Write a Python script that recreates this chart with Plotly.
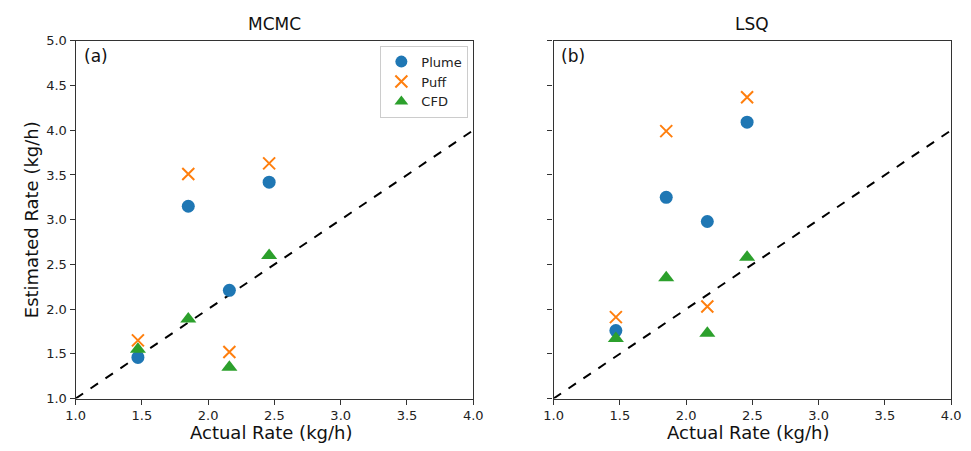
import plotly.graph_objects as go

actual = [1.47, 1.85, 2.16, 2.46]

mcmc_plume = [1.46, 3.15, 2.21, 3.42]
mcmc_puff = [1.65, 3.51, 1.52, 3.63]
mcmc_cfd = [1.55, 1.89, 1.35, 2.60]

lsq_plume = [1.76, 3.25, 2.98, 4.09]
lsq_puff = [1.91, 3.99, 2.03, 4.37]
lsq_cfd = [1.67, 2.35, 1.73, 2.58]

line_xy = [1.0, 4.0]
ticks = [1.0, 1.5, 2.0, 2.5, 3.0, 3.5, 4.0]
yticks = [1.0, 1.5, 2.0, 2.5, 3.0, 3.5, 4.0, 4.5, 5.0]

C_BLUE = "#1f77b4"
C_ORANGE = "#ff7f0e"
C_GREEN = "#2ca02c"
FONT = "DejaVu Sans"

fig = go.Figure()

panels = [
    ("x", "y", mcmc_plume, mcmc_puff, mcmc_cfd, True),
    ("x2", "y2", lsq_plume, lsq_puff, lsq_cfd, False),
]
for xa, ya, plume, puff, cfd, show in panels:
    fig.add_trace(go.Scatter(x=line_xy, y=line_xy, mode="lines", xaxis=xa, yaxis=ya,
                             line=dict(color="black", dash="dash", width=2),
                             showlegend=False, hoverinfo="skip"))
    fig.add_trace(go.Scatter(x=actual, y=plume, mode="markers", name="Plume", xaxis=xa, yaxis=ya,
                             marker=dict(symbol="circle", size=13, color=C_BLUE),
                             showlegend=show))
    fig.add_trace(go.Scatter(x=actual, y=puff, mode="markers", name="Puff", xaxis=xa, yaxis=ya,
                             marker=dict(symbol="x-thin", size=12, color=C_ORANGE,
                                         line=dict(color=C_ORANGE, width=2)),
                             showlegend=show))
    fig.add_trace(go.Scatter(x=actual, y=cfd, mode="markers", name="CFD", xaxis=xa, yaxis=ya,
                             marker=dict(symbol="triangle-up", size=14, color=C_GREEN),
                             showlegend=show))

W, H = 971, 451
ydom = [1 - 405 / H, 1 - 35 / H]
axis_common = dict(showgrid=False, zeroline=False, showline=True, linecolor="#333333",
                   linewidth=1.2, mirror=True, ticks="outside", ticklen=5, tickcolor="#333333",
                   tickfont=dict(family=FONT, size=13, color="#222222"))

fig.update_layout(
    width=W, height=H,
    margin=dict(l=0, r=0, t=0, b=0),
    paper_bgcolor="white", plot_bgcolor="white",
    font=dict(family=FONT, color="#222222"),
    xaxis=dict(domain=[67 / W, 473 / W], range=[1, 4], tickvals=ticks,
               ticktext=[f"{t:.1f}" for t in ticks], anchor="y", **axis_common),
    yaxis=dict(domain=ydom, range=[1, 5], tickvals=yticks,
               ticktext=[f"{t:.1f}" for t in yticks], anchor="x", **axis_common),
    xaxis2=dict(domain=[555 / W, 961 / W], range=[1, 4], tickvals=ticks,
                ticktext=[f"{t:.1f}" for t in ticks], anchor="y2", **axis_common),
    yaxis2=dict(domain=ydom, range=[1, 5], tickvals=yticks, showticklabels=False,
                anchor="x2", **axis_common),
    legend=dict(x=468 / W, xanchor="right", y=1 - 40 / H, yanchor="top",
                bgcolor="white", bordercolor="#cccccc", borderwidth=1,
                font=dict(family=FONT, size=13, color="#222222"),
                itemsizing="constant", tracegroupgap=0),
    showlegend=True,
)

ann = [
    dict(text="MCMC", x=270 / W, y=1 - 18 / H, size=17),
    dict(text="LSQ", x=758 / W, y=1 - 18 / H, size=17),
    dict(text="Actual Rate (kg/h)", x=266 / W, y=1 - 440 / H, size=18),
    dict(text="Actual Rate (kg/h)", x=754 / W, y=1 - 440 / H, size=18),
    dict(text="(a)", x=88 / W, y=1 - 51 / H, size=17),
    dict(text="(b)", x=575 / W, y=1 - 51 / H, size=17),
]
for a in ann:
    fig.add_annotation(text=a["text"], x=a["x"], y=a["y"], xref="paper", yref="paper",
                       showarrow=False, xanchor="center", yanchor="middle",
                       font=dict(family=FONT, size=a["size"], color="#111111"))
fig.add_annotation(text="Estimated Rate (kg/h)", x=22 / W, y=1 - 220 / H, xref="paper",
                   yref="paper", showarrow=False, textangle=-90, xanchor="center",
                   yanchor="middle", font=dict(family=FONT, size=18, color="#111111"))

fig.write_html("out.html",
               post_script="document.body.style.margin='0';document.body.style.overflow='hidden';")
